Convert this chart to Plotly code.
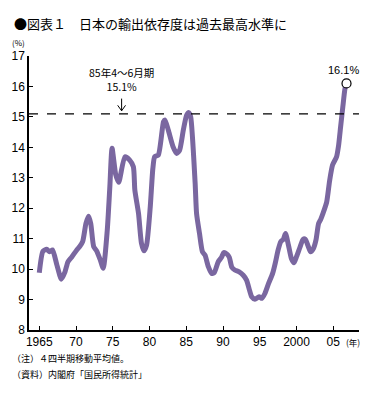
import plotly.graph_objects as go

years = [1965.0, 1965.5, 1966.0, 1966.4, 1966.8, 1967.4, 1968.0, 1968.5, 1968.9, 1969.4,
         1970.1, 1970.5, 1970.9, 1971.35, 1971.7, 1972.0, 1972.4, 1972.8, 1973.3, 1973.7,
         1974.25, 1974.6, 1974.9, 1975.4, 1975.8, 1976.65, 1977.3, 1977.8, 1978.0, 1978.5,
         1978.9, 1979.25, 1979.6, 1980.1, 1980.45, 1980.7, 1981.2, 1981.9, 1982.1, 1982.55,
         1983.2, 1983.7, 1984.1, 1984.6, 1985.05, 1985.35, 1985.6, 1986.2, 1986.4, 1986.8,
         1987.2, 1987.55, 1988.0, 1988.45, 1988.8, 1989.35, 1989.8, 1990.1, 1990.5, 1990.85,
         1991.2, 1991.6, 1992.2, 1992.75, 1993.2, 1993.6, 1993.9, 1994.35, 1994.9, 1995.3,
         1995.7, 1996.2, 1996.75, 1997.1, 1997.5, 1997.85, 1998.2, 1998.5, 1998.9, 1999.3,
         1999.65, 2000.0, 2000.5, 2000.9, 2001.2, 2001.6, 2001.9, 2002.3, 2002.65, 2003.0,
         2003.3, 2003.6, 2004.1, 2004.5, 2004.9, 2005.45, 2005.7, 2006.0, 2006.3, 2006.6,
         2006.8]
ratio = [9.88, 10.59, 10.65, 10.57, 10.63, 10.13, 9.67, 9.91, 10.24, 10.39,
         10.63, 10.74, 10.9, 11.5, 11.74, 11.5, 10.74, 10.6, 10.3, 10.03,
         11.28, 12.71, 13.97, 13.1, 12.85, 13.69, 13.58, 13.36, 12.6, 11.83,
         10.85, 10.6, 10.79, 12.05, 13.3, 13.69, 13.75, 14.84, 14.9, 14.57,
         14.02, 13.8, 13.91, 14.57, 15.06, 15.14, 15.0, 12.85, 11.83, 11.17,
         10.57, 10.46, 10.08, 9.86, 9.88, 10.24, 10.39, 10.54, 10.5, 10.39,
         10.06, 9.97, 9.91, 9.8, 9.64, 9.31, 9.09, 9.01, 9.09, 9.04,
         9.2, 9.53, 9.86, 10.19, 10.63, 10.9, 10.98, 11.17, 10.79, 10.35,
         10.21, 10.41, 10.74, 10.98, 10.98, 10.74, 10.57, 10.68, 10.96, 11.5,
         11.64, 11.83, 12.2, 12.9, 13.42, 13.69, 14.02, 14.68, 15.33, 15.94,
         16.1]

tick_years = [1965, 1970, 1975, 1980, 1985, 1990, 1995, 2000, 2005]
tick_labels = ["1965", "70", "75", "80", "85", "90", "95", "2000", "05"]
y_ticks = [8, 9, 10, 11, 12, 13, 14, 15, 16, 17]
peak_1985 = 15.1
latest = 16.1

FONT = "Liberation Sans, Arial, Noto Sans CJK JP"
JP = "Noto Sans CJK JP, Liberation Sans"

W, H = 381, 393
L, R, T, B = 29, 22, 56, 63
PW, PH = W - L - R, H - T - B


def px(x):
    return (x - L) / PW


def py(y):
    return (H - B - y) / PH


fig = go.Figure()
fig.add_trace(go.Scatter(x=years, y=ratio, mode="lines",
                         line=dict(color="#7a67a0", width=5, shape="spline", smoothing=0.6),
                         hoverinfo="skip"))
fig.add_trace(go.Scatter(x=[years[-1]], y=[ratio[-1]], mode="markers",
                         marker=dict(size=9, color="white", line=dict(color="black", width=1.2)),
                         hoverinfo="skip"))

fig.add_shape(type="line", xref="paper", x0=0, x1=1, yref="y", y0=peak_1985, y1=peak_1985,
              line=dict(color="black", width=1.2, dash="dash"))

arrow_x = 1976.2
fig.add_annotation(x=arrow_x, y=peak_1985 + 0.1, ax=arrow_x, ay=15.65, xref="x", yref="y",
                   axref="x", ayref="y", text="", showarrow=True, arrowhead=0,
                   arrowwidth=1, arrowcolor="black")
fig.add_annotation(x=arrow_x, y=peak_1985 + 0.1, xref="x", yref="y", text="", showarrow=True,
                   ax=-5, ay=-7, arrowhead=0, arrowwidth=1, arrowcolor="black")
fig.add_annotation(x=arrow_x, y=peak_1985 + 0.1, xref="x", yref="y", text="", showarrow=True,
                   ax=5, ay=-7, arrowhead=0, arrowwidth=1, arrowcolor="black")
fig.add_annotation(x=arrow_x, y=15.7, xref="x", yref="y", yanchor="bottom",
                   text="85年4～6月期<br>" + f"{peak_1985}%", showarrow=False,
                   font=dict(family=JP, size=10.5, color="black"))
fig.add_annotation(x=years[-1] - 0.4, y=latest, xref="x", yref="y", yanchor="bottom",
                   text=f"{latest}%", showarrow=False, yshift=5,
                   font=dict(family=FONT, size=11, color="black"))

fig.add_annotation(x=px(12), y=py(24), xref="paper", yref="paper", xanchor="left",
                   yanchor="middle", text="●図表１　日本の輸出依存度は過去最高水準に",
                   showarrow=False, font=dict(family=JP, size=13, color="black"))
fig.add_annotation(x=px(10), y=py(43), xref="paper", yref="paper", xanchor="left",
                   yanchor="middle", text="(%)", showarrow=False,
                   font=dict(family=JP, size=8, color="black"))
fig.add_annotation(x=px(344), y=py(342), xref="paper", yref="paper", xanchor="left",
                   yanchor="middle", text="(年)", showarrow=False,
                   font=dict(family=JP, size=8.5, color="black"))
fig.add_annotation(x=px(10), y=py(358), xref="paper", yref="paper", xanchor="left",
                   yanchor="middle", text="（注）４四半期移動平均値。", showarrow=False,
                   font=dict(family=JP, size=9, color="black"))
fig.add_annotation(x=px(10), y=py(374), xref="paper", yref="paper", xanchor="left",
                   yanchor="middle", text="（資料）内閣府「国民所得統計」", showarrow=False,
                   font=dict(family=JP, size=9, color="black"))

fig.update_layout(
    width=W, height=H, margin=dict(l=L, r=R, t=T, b=B),
    paper_bgcolor="white", plot_bgcolor="white", showlegend=False,
    xaxis=dict(range=[1963.6, 2008.5], tickvals=tick_years, ticktext=tick_labels,
               ticks="inside", ticklen=4, tickcolor="black", showline=True,
               linecolor="black", linewidth=1.5, showgrid=False, zeroline=False,
               tickfont=dict(family=FONT, size=12, color="black"), fixedrange=True),
    yaxis=dict(range=[8, 17], tickvals=y_ticks, ticks="inside", ticklen=4,
               tickcolor="black", showline=True, linecolor="black", linewidth=1.5,
               showgrid=False, zeroline=False,
               tickfont=dict(family=FONT, size=12, color="black"), fixedrange=True),
)

fig.write_html("out.html", config={"displayModeBar": False},
               post_script="document.body.style.margin='0';document.body.style.padding='0';")
